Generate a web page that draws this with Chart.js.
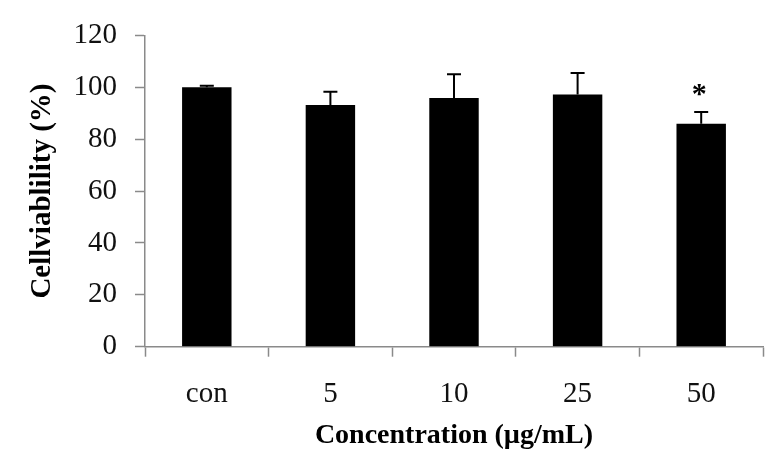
<!DOCTYPE html>
<html>
<head>
<meta charset="utf-8">
<script src="https://cdn.jsdelivr.net/npm/chart.js@4/dist/chart.umd.min.js"></script>
<style>
  html, body { margin: 0; padding: 0; background: #fff; }
  #wrap { width: 772px; height: 474px; }
</style>
</head>
<body>
<div id="wrap"><canvas id="viabilityChart" width="772" height="474"></canvas></div>
<script>
const categories = ["con", "5", "10", "25", "50"];
const viability = [100.0, 93.2, 95.9, 97.2, 85.9];
const errors = [0.6, 5.1, 9.1, 8.3, 4.6];
const marks = ["", "", "", "", "*"];

const serif = "'Liberation Serif', 'Times New Roman', serif";

// error bars (upper only) + significance star
const errorBars = {
  id: "errorBars",
  afterDatasetsDraw(chart) {
    const ctx = chart.ctx;
    const y = chart.scales.y;
    const meta = chart.getDatasetMeta(0);
    ctx.save();
    ctx.strokeStyle = "#000";
    ctx.lineWidth = 2;
    meta.data.forEach((bar, i) => {
      const top = y.getPixelForValue(viability[i]);
      const cap = y.getPixelForValue(viability[i] + errors[i]);
      ctx.beginPath();
      ctx.moveTo(bar.x, top);
      ctx.lineTo(bar.x, cap);
      ctx.moveTo(bar.x - 7, cap);
      ctx.lineTo(bar.x + 7, cap);
      ctx.stroke();
      if (marks[i]) {
        ctx.fillStyle = "#000";
        ctx.font = "bold 30px " + serif;
        ctx.textAlign = "center";
        ctx.textBaseline = "middle";
        ctx.fillText(marks[i], bar.x - 2, cap - 17);
      }
    });
    ctx.restore();
  },
};

let viabilityChart;

const addViabilityChart = () => {
  let ctx = document.getElementById("viabilityChart").getContext("2d");

  viabilityChart = new Chart(ctx, {
    type: "bar",
    data: {
      labels: categories,
      datasets: [
        {
          label: "Cell viability",
          data: viability,
          backgroundColor: "#000",
          borderWidth: 0,
          barPercentage: 0.4,
          categoryPercentage: 1,
        },
      ],
    },
    options: {
      responsive: false,
      animation: false,
      layout: { padding: { top: 32, right: 9, left: 0, bottom: 0 } },
      plugins: {
        legend: { display: false },
        tooltip: { enabled: false },
      },
      scales: {
        x: {
          afterFit: (s) => { s.height = 127.3; },
          grid: {
            drawOnChartArea: false,
            tickLength: 10,
            tickColor: "#8a8a8a",
            tickWidth: 1.5,
          },
          border: { color: "#8a8a8a", width: 1.5 },
          ticks: {
            color: "#111",
            padding: 20,
            font: { family: serif, size: 29 },
          },
          title: {
            display: true,
            text: "Concentration (µg/mL)",
            color: "#000",
            font: { family: serif, size: 28, weight: "bold" },
            padding: { top: 0, bottom: 21 },
          },
        },
        y: {
          min: 0,
          max: 120,
          afterFit: (s) => { s.width = 145; },
          grid: {
            drawOnChartArea: false,
            tickLength: 10,
            tickColor: "#8a8a8a",
            tickWidth: 1.5,
          },
          border: { color: "#8a8a8a", width: 1.5 },
          ticks: {
            stepSize: 20,
            color: "#111",
            padding: 18,
            font: { family: serif, size: 29 },
          },
          title: {
            display: true,
            text: "Cellviablility (%)",
            color: "#000",
            font: { family: serif, size: 29, weight: "bold" },
            padding: { top: 25, bottom: 0 },
          },
        },
      },
    },
    plugins: [errorBars],
  });
};

addViabilityChart();
</script>
</body>
</html>
